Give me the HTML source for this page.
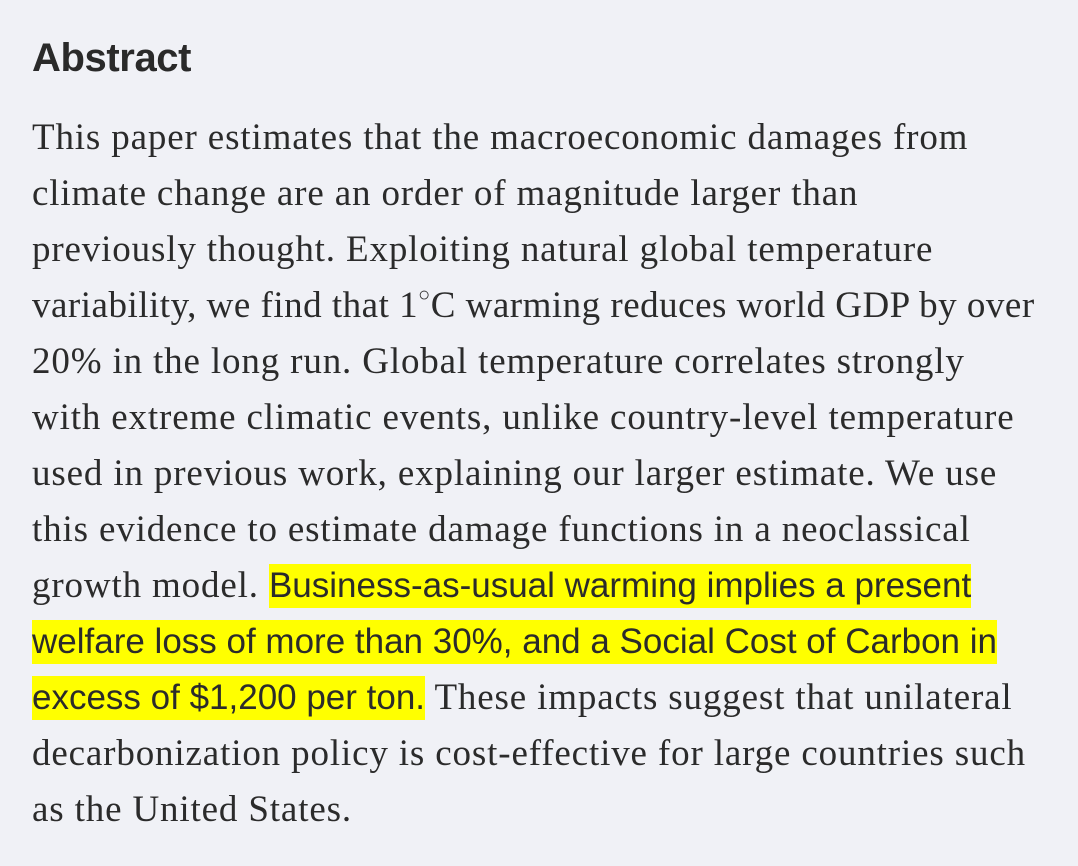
<!DOCTYPE html>
<html><head><meta charset="utf-8"><style>
html,body{margin:0;padding:0;background:#f0f1f6;width:1078px;height:866px;overflow:hidden}
h2{position:absolute;left:32px;top:36px;margin:0;font-family:"Liberation Sans",sans-serif;font-weight:bold;font-size:40px;color:#2a2a2a;letter-spacing:-0.4px}
.t{position:absolute;left:32px;top:110px;font-family:"Liberation Serif",serif;font-size:37px;line-height:56px;color:#2b2b2b;letter-spacing:0.85px}
.t div{white-space:nowrap;height:56px}
.h{background:#ffff00;font-family:"Liberation Sans",sans-serif;font-size:35px;letter-spacing:0;padding:2px 0 3px}
sup{font-size:20px;line-height:0;vertical-align:0;position:relative;top:-16px}
</style></head><body>
<h2>Abstract</h2>
<div class="t">
<div>This paper estimates that the macroeconomic damages from</div>
<div>climate change are an order of magnitude larger than</div>
<div>previously thought. Exploiting natural global temperature</div>
<div style="letter-spacing:0.5px">variability, we find that 1<sup>○</sup>C warming reduces world GDP by over</div>
<div>20% in the long run. Global temperature correlates strongly</div>
<div>with extreme climatic events, unlike country-level temperature</div>
<div>used in previous work, explaining our larger estimate. We use</div>
<div>this evidence to estimate damage functions in a neoclassical</div>
<div>growth model. <span class="h">Business-as-usual warming implies a present</span></div>
<div><span class="h">welfare loss of more than 30%, and a Social Cost of Carbon in</span></div>
<div><span class="h">excess of $1,200 per ton.</span> These impacts suggest that unilateral</div>
<div>decarbonization policy is cost-effective for large countries such</div>
<div>as the United States.</div>
</div>
</body></html>
